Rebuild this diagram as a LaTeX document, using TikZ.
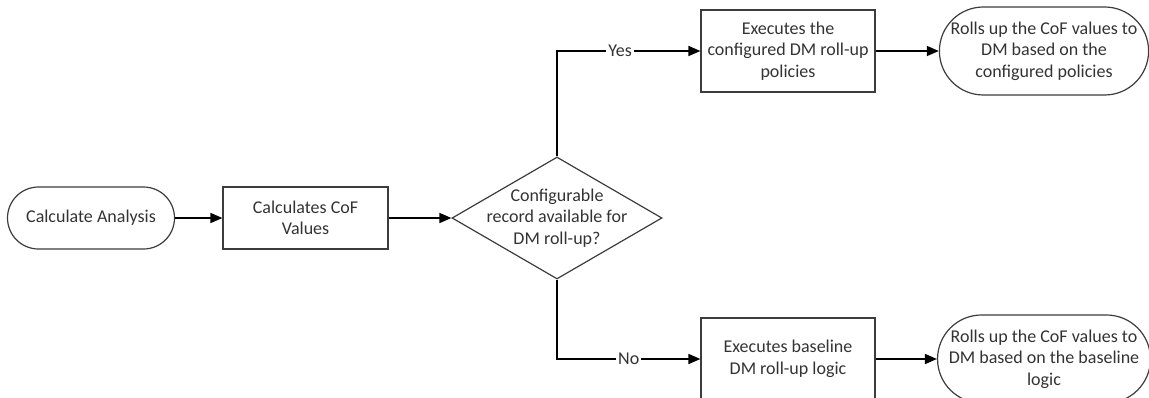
\documentclass[tikz,border=0pt]{standalone}
\usepackage{fontspec}
\setmainfont{Carlito}
\usepackage{xcolor}
\usetikzlibrary{arrows.meta, shapes.geometric, shapes.misc, positioning}

\definecolor{LineGray}{HTML}{3C3C3C}
\definecolor{TextGray}{HTML}{333333}

\tikzset{
    terminal/.style={rounded rectangle, draw=LineGray, line width=0.6pt, align=center,
        text=TextGray, font=\fontsize{9}{10.8}\selectfont, inner sep=0pt},
    process/.style={rectangle, draw=LineGray, line width=0.6pt, align=center,
        text=TextGray, font=\fontsize{9}{10.8}\selectfont, inner sep=0pt},
    decision/.style={diamond, draw=LineGray, line width=0.6pt, inner sep=0pt,
        minimum width=105pt, minimum height=61pt},
    flow/.style={->, line width=0.8pt, draw=black},
    edgelabel/.style={fill=white, inner sep=1pt, text=TextGray, font=\fontsize{9}{10.8}\selectfont}
}

\begin{document}
\begin{tikzpicture}[x=0.5pt, y=0.5pt, >={Triangle[length=6pt, width=5pt]}]

    % =================================================================
    % 1. KHUNG HINH (1149 x 397)
    % =================================================================
    \useasboundingbox (0,0) rectangle (1149,397);
    \clip (0,0) rectangle (1149,397);

    % =================================================================
    % 2. CAC NUT CHINH
    % =================================================================
    \node[terminal, minimum width=83.5pt, minimum height=31pt] (Start) at (91,179) {Calculate Analysis};
    \node[process, minimum width=82.5pt, minimum height=31pt] (CalcCoF) at (305.5,179) {Calculates CoF\\Values};
    \node[decision, label={[text=TextGray, font=\fontsize{9}{10.8}\selectfont, align=center]center:Configurable\\record available for\\DM roll-up?}] (Decide) at (557,179) {};

    % Nhanh "Yes" (phia tren)
    \node[process, minimum width=87pt, minimum height=41pt] (ExecConfig) at (788,346) {Executes the\\configured DM roll-up\\policies};
    \node[terminal, minimum width=104pt, minimum height=44pt] (EndConfig) at (1044,346) {Rolls up the CoF values to\\DM based on the\\configured policies};

    % Nhanh "No" (phia duoi)
    \node[process, minimum width=87pt, minimum height=41pt] (ExecBase) at (788,38) {Executes baseline\\DM roll-up logic};
    \node[terminal, minimum width=104pt, minimum height=44pt] (EndBase) at (1044,38) {Rolls up the CoF values to\\DM based on the baseline\\logic};

    % =================================================================
    % 3. CAC MUI TEN NOI
    % =================================================================
    \draw[flow] (Start) -- (CalcCoF);
    \draw[flow] (CalcCoF) -- (Decide);
    \draw[flow] (Decide) |- node[pos=0.72, edgelabel] {Yes} (ExecConfig);
    \draw[flow] (Decide) |- node[pos=0.75, edgelabel] {No} (ExecBase);
    \draw[flow] (ExecConfig) -- (EndConfig);
    \draw[flow] (ExecBase) -- (EndBase);

\end{tikzpicture}
\end{document}
